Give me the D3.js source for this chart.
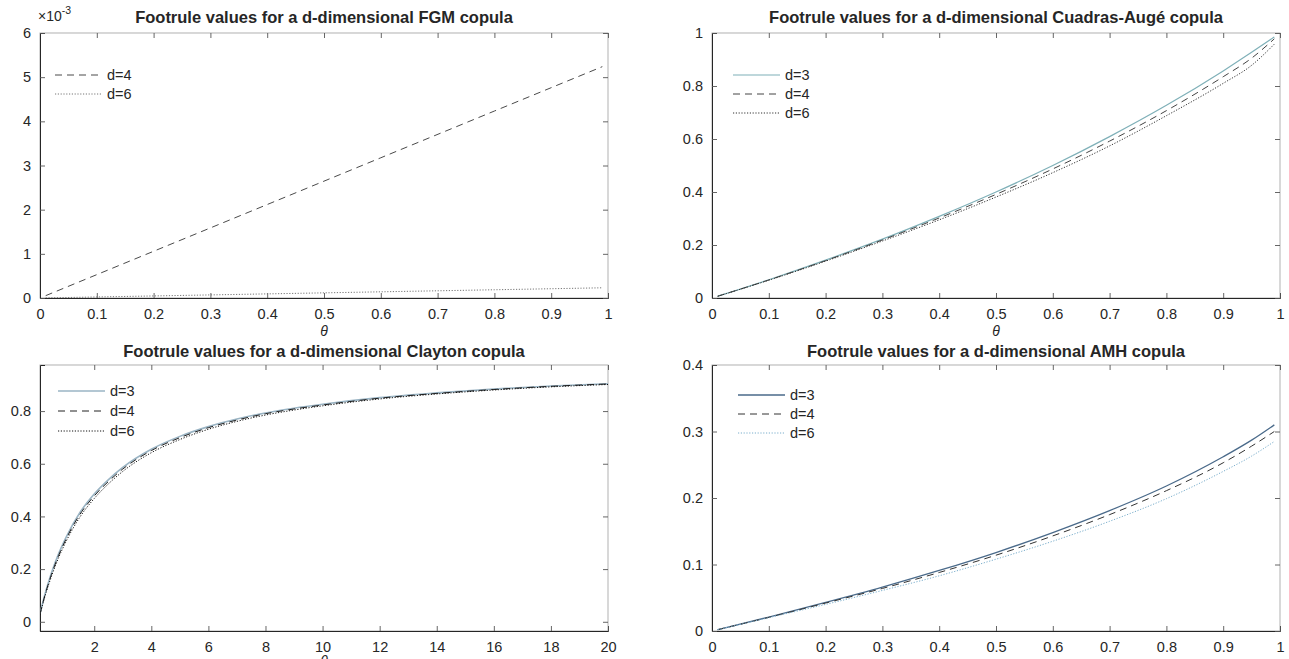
<!DOCTYPE html>
<html><head><meta charset="utf-8">
<script src="https://cdn.jsdelivr.net/npm/d3@7"></script>
<style>
html,body{margin:0;padding:0;background:#fff;}
text{font-family:"Liberation Sans",Arial,Helvetica,sans-serif;fill:#262626;}
</style></head>
<body><svg id="c" width="1289" height="659"></svg>
<script>
// ---------- data ----------
const fgmTheta = [0.01, 0.2, 0.4, 0.6, 0.8, 0.99];
const fgmD4 = [0.053, 1.058, 2.116, 3.175, 4.233, 5.238];      // x 1e-3
const fgmD6 = [0.0023, 0.0466, 0.0932, 0.1399, 0.1865, 0.2308]; // x 1e-3

const caTheta = [0.01, 0.1, 0.2, 0.3, 0.4, 0.5, 0.6, 0.7, 0.8, 0.9, 0.95, 0.99];
const caD3 = [0.0067, 0.069, 0.143, 0.222, 0.308, 0.400, 0.500, 0.609, 0.727, 0.857, 0.927, 0.985];
const caD4 = [0.0066, 0.068, 0.141, 0.219, 0.302, 0.391, 0.487, 0.592, 0.707, 0.835, 0.905, 0.978];
const caD6 = [0.0065, 0.067, 0.139, 0.215, 0.295, 0.381, 0.473, 0.574, 0.688, 0.810, 0.878, 0.958];

const clTheta = [0.1, 0.25, 0.5, 0.75, 1, 1.5, 2, 2.5, 3, 4, 5, 6, 7, 8, 9, 10, 12, 14, 16, 18, 20];
const clD3 = [0.030, 0.095, 0.185, 0.258, 0.318, 0.415, 0.485, 0.540, 0.586, 0.655, 0.704, 0.741, 0.770, 0.793, 0.811, 0.826, 0.851, 0.869, 0.884, 0.895, 0.904];
const clD4 = [0.029, 0.092, 0.179, 0.251, 0.311, 0.408, 0.478, 0.533, 0.580, 0.650, 0.699, 0.737, 0.766, 0.790, 0.808, 0.823, 0.849, 0.867, 0.882, 0.894, 0.903];
const clD6 = [0.028, 0.088, 0.172, 0.243, 0.302, 0.398, 0.468, 0.524, 0.571, 0.642, 0.692, 0.731, 0.761, 0.785, 0.804, 0.820, 0.846, 0.865, 0.880, 0.892, 0.901];

const amhTheta = [0.01, 0.1, 0.2, 0.3, 0.4, 0.5, 0.6, 0.7, 0.8, 0.9, 0.95, 0.99];
const amhD3 = [0.002, 0.021, 0.043, 0.066, 0.091, 0.118, 0.148, 0.181, 0.218, 0.262, 0.287, 0.310];
const amhD4 = [0.002, 0.0205, 0.042, 0.064, 0.088, 0.114, 0.143, 0.175, 0.211, 0.253, 0.278, 0.300];
const amhD6 = [0.002, 0.020, 0.040, 0.061, 0.083, 0.108, 0.135, 0.165, 0.199, 0.240, 0.263, 0.285];

const ticks01 = [0, 0.1, 0.2, 0.3, 0.4, 0.5, 0.6, 0.7, 0.8, 0.9, 1];
const tickLabels01 = ["0","0.1","0.2","0.3","0.4","0.5","0.6","0.7","0.8","0.9","1"];
const clXTicks = [2, 4, 6, 8, 10, 12, 14, 16, 18, 20];

// ---------- drawing ----------
const svg = d3.select("#c");
const AX = "#262626", BOX = "#262626";
const TICKFS = 14.5, LEGFS = 14.5, TITLEFS = 16.5;

function panel(o){
  const g = svg.append("g");
  const x = d3.scaleLinear().domain(o.xd).range([o.x0, o.x1]);
  const y = d3.scaleLinear().domain(o.yd).range([o.y1, o.y0]);
  g.append("rect").attr("x",o.x0).attr("y",o.y0).attr("width",o.x1-o.x0).attr("height",o.y1-o.y0)
    .attr("fill","#fff").attr("stroke","#a8a8a8").attr("stroke-width",0.9);
  const xa = d3.axisBottom(x).tickValues(o.xt).tickSize(-5).tickPadding(11)
      .tickFormat((d,i)=>o.xl ? o.xl[i] : d);
  const gx = g.append("g").attr("transform",`translate(0,${o.y1})`).call(xa);
  gx.select(".domain").attr("stroke",BOX);
  const xt = d3.axisTop(x).tickValues(o.xt).tickSize(-5).tickFormat("");
  const gxt = g.append("g").attr("transform",`translate(0,${o.y0})`).call(xt);
  gxt.select(".domain").remove();
  const ya = d3.axisLeft(y).tickValues(o.yt).tickSize(-5).tickPadding(9)
      .tickFormat((d,i)=>o.yl[i]);
  const gy = g.append("g").attr("transform",`translate(${o.x0},0)`).call(ya);
  gy.select(".domain").attr("stroke",BOX);
  const yr = d3.axisRight(y).tickValues(o.yt).tickSize(-5).tickFormat("");
  const gyr = g.append("g").attr("transform",`translate(${o.x1},0)`).call(yr);
  gyr.select(".domain").remove();
  g.selectAll(".tick line").attr("stroke","#555").attr("stroke-width",0.9);
  g.selectAll(".tick text").attr("font-size",TICKFS).attr("fill",AX)
    .attr("font-family","'Liberation Sans',Arial,sans-serif");
  g.append("text").attr("x",(o.x0+o.x1)/2).attr("y",o.y0-o.tgap).attr("text-anchor","middle")
    .attr("font-weight","bold").attr("font-size",TITLEFS).text(o.title);
  if(o.xlabelY){
    g.append("text").attr("x",(o.x0+o.x1)/2).attr("y",o.xlabelY).attr("text-anchor","middle")
      .attr("font-style","italic").attr("font-family","'Liberation Serif',serif").attr("font-size",14).text("θ");
  }
  const clip = "clip"+Math.round(o.x0)+"_"+Math.round(o.y0);
  svg.append("clipPath").attr("id",clip).append("rect")
    .attr("x",o.x0).attr("y",o.y0).attr("width",o.x1-o.x0).attr("height",o.y1-o.y0);
  const line = d3.line().x(d=>x(d[0])).y(d=>y(d[1])).curve(d3.curveMonotoneX);
  o.series.forEach(s=>{
    const pts = o.xs.map((t,i)=>[t, s.v[i]]);
    g.append("path").attr("d",line(pts)).attr("fill","none").attr("stroke",s.c)
      .attr("stroke-width",s.w).attr("stroke-dasharray",s.dash).attr("clip-path",`url(#${clip})`);
  });
  o.series.forEach((s,i)=>{
    const ly = o.ly + i*o.lstep;
    g.append("line").attr("x1",o.lx).attr("x2",o.lx+47).attr("y1",ly).attr("y2",ly)
      .attr("stroke",s.c).attr("stroke-width",s.w).attr("stroke-dasharray",s.dash);
    g.append("text").attr("x",o.lx+52).attr("y",ly+5).attr("font-size",LEGFS).text(s.name);
  });
  return {x,y,g};
}

const DASH = "7,5", DOT = "1.2,1.6";

const p1 = panel({x0:40,x1:608,y0:33,y1:298,xd:[0,1],yd:[0,6],tgap:10,
  xt:ticks01,xl:tickLabels01,yt:[0,1,2,3,4,5,6],yl:["0","1","2","3","4","5","6"],
  title:"Footrule values for a d-dimensional FGM copula",xlabelY:336,xs:fgmTheta,
  lx:55,ly:75,lstep:19,
  series:[{name:"d=4",v:fgmD4,c:"#4a4a4a",w:1,dash:DASH},{name:"d=6",v:fgmD6,c:"#777",w:1,dash:DOT}]});
const mt = p1.g.append("text").attr("x",38).attr("y",21).attr("font-size",14);
mt.append("tspan").text("×10");
mt.append("tspan").attr("dy",-7).attr("font-size",10.5).text("-3");

panel({x0:712,x1:1280,y0:33,y1:298,xd:[0,1],yd:[0,1],tgap:10,
  xt:ticks01,xl:tickLabels01,yt:[0,0.2,0.4,0.6,0.8,1],yl:["0","0.2","0.4","0.6","0.8","1"],
  title:"Footrule values for a d-dimensional Cuadras-Augé copula",xlabelY:336,xs:caTheta,
  lx:733,ly:75,lstep:19,
  series:[{name:"d=3",v:caD3,c:"#7fb0b8",w:1.2,dash:null},
          {name:"d=4",v:caD4,c:"#444",w:1,dash:DASH},
          {name:"d=6",v:caD6,c:"#333",w:1,dash:DOT}]});

panel({x0:40,x1:608,y0:365,y1:631,xd:[0.1,20],yd:[-0.035,0.975],tgap:8,
  xt:clXTicks,xl:null,yt:[0,0.2,0.4,0.6,0.8],yl:["0","0.2","0.4","0.6","0.8"],
  title:"Footrule values for a d-dimensional Clayton copula",xlabelY:666,xs:clTheta,
  lx:58,ly:391,lstep:20,
  series:[{name:"d=3",v:clD3,c:"#9ab4c4",w:1.6,dash:null},
          {name:"d=4",v:clD4,c:"#222",w:1,dash:DASH},
          {name:"d=6",v:clD6,c:"#111",w:1,dash:DOT}]});

panel({x0:712,x1:1280,y0:365,y1:631,xd:[0,1],yd:[0,0.4],tgap:8,
  xt:ticks01,xl:tickLabels01,yt:[0,0.1,0.2,0.3,0.4],yl:["0","0.1","0.2","0.3","0.4"],
  title:"Footrule values for a d-dimensional AMH copula",xlabelY:null,xs:amhTheta,
  lx:738,ly:395,lstep:19,
  series:[{name:"d=3",v:amhD3,c:"#4a6a8a",w:1.3,dash:null},
          {name:"d=4",v:amhD4,c:"#333",w:1,dash:DASH},
          {name:"d=6",v:amhD6,c:"#7aaecc",w:1,dash:DOT}]});
</script></body></html>
